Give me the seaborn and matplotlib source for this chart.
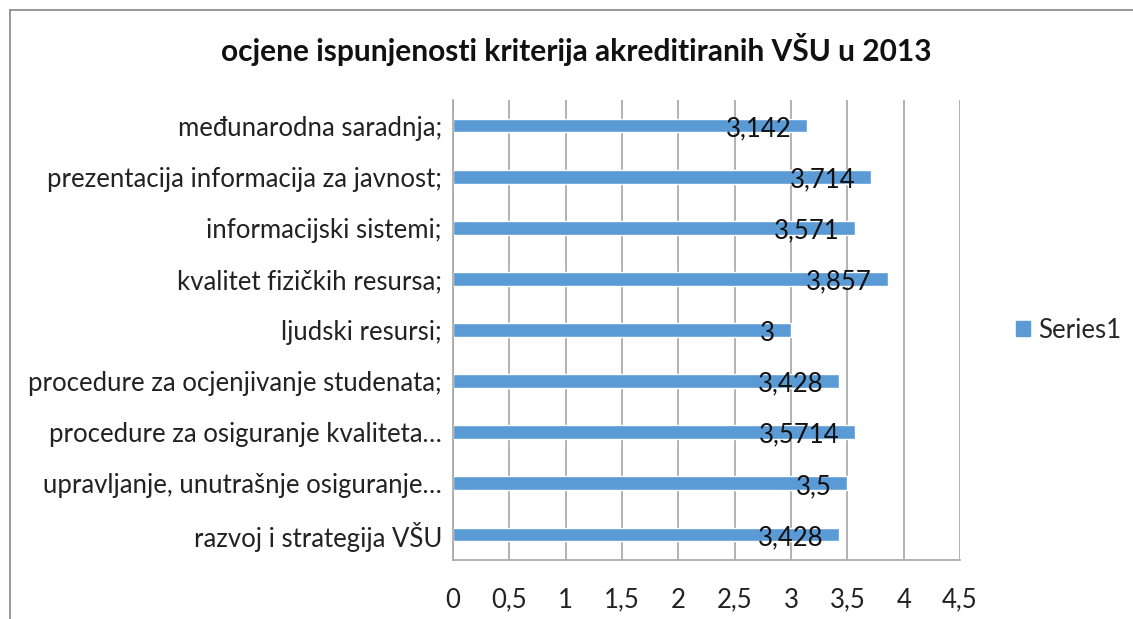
import matplotlib.pyplot as plt
import pandas as pd
import seaborn as sns
from matplotlib.lines import Line2D
from matplotlib.patches import Patch

categories = [
    "međunarodna saradnja;",
    "prezentacija informacija za javnost;",
    "informacijski sistemi;",
    "kvalitet fizičkih resursa;",
    "ljudski resursi;",
    "procedure za ocjenjivanje studenata;",
    "procedure za osiguranje kvaliteta…",
    "upravljanje, unutrašnje osiguranje…",
    "razvoj i strategija VŠU",
]
values = [3.142, 3.714, 3.571, 3.857, 3.0, 3.428, 3.5714, 3.5, 3.428]
value_labels = ["3,142", "3,714", "3,571", "3,857", "3", "3,428", "3,5714", "3,5", "3,428"]
x_ticks = [0, 0.5, 1, 1.5, 2, 2.5, 3, 3.5, 4, 4.5]
x_tick_labels = ["0", "0,5", "1", "1,5", "2", "2,5", "3", "3,5", "4", "4,5"]

BAR_COLOR = "#5b9bd5"
GRID_COLOR = "#a6a6a6"
FS = 18.5

sns.set_theme(style="white")
plt.rcParams["font.family"] = ["Lato", "DejaVu Sans"]

df = pd.DataFrame({"kriterij": categories, "ocjena": values})

fig = plt.figure(figsize=(11.33, 6.19), dpi=100)
ax = fig.add_axes([453 / 1133, 1 - 560 / 619, (960 - 453) / 1133, (560 - 100) / 619])

sns.barplot(data=df, y="kriterij", x="ocjena", orient="h", color=BAR_COLOR,
            width=0.27, saturation=1, ax=ax)

ax.set_xlim(0, 4.5)
ax.set_ylim(len(categories) - 0.5, -0.5)
ax.set_xticks(x_ticks)
ax.set_xticklabels(x_tick_labels, fontsize=FS, color="#222222")
ax.tick_params(axis="x", length=0, pad=20)
ax.tick_params(axis="y", length=0, pad=8, labelsize=FS, labelcolor="#222222")
ax.set_xlabel("")
ax.set_ylabel("")
ax.grid(axis="x", color=GRID_COLOR, linewidth=1.2)
ax.set_axisbelow(True)
for side in ["top", "right", "left", "bottom"]:
    ax.spines[side].set_visible(side in ("left", "bottom"))
    ax.spines[side].set_color(GRID_COLOR)
    ax.spines[side].set_linewidth(1.2)

for i, (v, lab) in enumerate(zip(values, value_labels)):
    ax.text(v - 0.14, i + 0.06, lab, ha="right", va="center", fontsize=FS, color="#111111")

fig.text(576 / 1133, 1 - 50 / 619, "ocjene ispunjenosti kriterija akreditiranih VŠU u 2013",
         ha="center", va="center", fontsize=21.5, fontweight="bold", color="#111111")

ax.legend(handles=[Patch(color=BAR_COLOR, label="Series1")], loc="center left",
          bbox_to_anchor=(1.065, 0.5), frameon=False, fontsize=FS, handlelength=0.55,
          handleheight=0.55, handletextpad=0.3)

fig.add_artist(Line2D([10 / 1133, 1], [1 - 10 / 619, 1 - 10 / 619], color="#888888", linewidth=1.2))
fig.add_artist(Line2D([10 / 1133, 10 / 1133], [0, 1 - 10 / 619], color="#888888", linewidth=1.2))

fig.savefig("out.png", dpi=100, facecolor="white")
